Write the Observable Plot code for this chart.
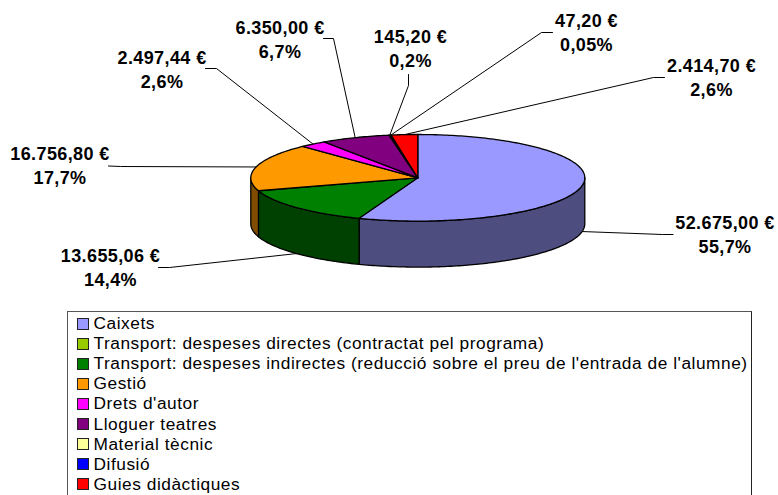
<!DOCTYPE html>
<html>
<head>
<meta charset="utf-8">
<script src="https://cdn.jsdelivr.net/npm/d3@7"></script>
<script src="https://cdn.jsdelivr.net/npm/@observablehq/plot@0.6"></script>
<style>
html,body{margin:0;padding:0;background:#fff;overflow:hidden;}
#chart text{letter-spacing:.4px;}
#legend{box-sizing:border-box;margin-left:67px;width:685px;height:184px;border:1px solid #222;border-bottom:none;border-top-color:#555;border-left-color:#555;padding-top:1.5px;
font-family:"Liberation Sans",Arial,sans-serif;font-size:17.3px;letter-spacing:.55px;color:#000;overflow:hidden;}
.row{display:flex;align-items:center;height:20.1px;white-space:nowrap;}
.sw{box-sizing:border-box;width:12px;height:12px;border:1px solid #222;margin-left:8.5px;margin-right:5px;flex:none;}
</style>
</head>
<body>
<div id="chart"></div>
<div id="legend"></div>
<script>
const categories = ["Caixets","Transport: despeses directes (contractat pel programa)","Transport: despeses indirectes (reducció sobre el preu de l'entrada de l'alumne)","Gestió","Drets d'autor","Lloguer teatres","Material tècnic","Difusió","Guies didàctiques"];
const values = [52675.00, 0, 13655.06, 16756.80, 2497.44, 6350.00, 145.20, 47.20, 2414.70];
const amountLabels = ["52.675,00 €","","13.655,06 €","16.756,80 €","2.497,44 €","6.350,00 €","145,20 €","47,20 €","2.414,70 €"];
const percentLabels = ["55,7%","","14,4%","17,7%","2,6%","6,7%","0,2%","0,05%","2,6%"];
const topColors = ["#9999FF","#99CC00","#008000","#FF9900","#FF00FF","#800080","#FFFF99","#0000FF","#FF0000"];
const sideColors = ["#4D4D80","#4D6600","#004000","#804D00","#800080","#400040","#80804D","#000080","#800000"];
// label block centre and leader-line elbow / end (in chart layout units)
const labelCenterX = [724.5,0,110,59.5,161.5,279.5,410,586,711];
const labelCenterY = [233,0,266,164,67.5,38,47,31,76];
const elbowX = [662,0,169,120,216,333,408,541,653];
const elbowY = [234,0,267,166,68,38,85,32,77];
const endX = [672.5,0,158,108,205,323,408,552,664];
const endY = [234,0,267,165.5,68,38,74,32,77];

const W = 778, H = 311;
const cx = 417.3, cy = 177.3, rx = 167, ry = 43.3, depth = 46;
const total = d3.sum(values);
const rad = d => d * Math.PI / 180;
const px = a => cx + rx * Math.sin(rad(a));
const py = a => cy - ry * Math.cos(rad(a));

let cum = 0;
const slices = values.map((v, i) => {
  const start = cum / total * 360;
  cum += v;
  return {i, v, start, end: cum / total * 360};
}).filter(s => s.v > 0);

const arc = (a, b) => {
  const n = Math.max(1, Math.ceil((b - a) / 1));
  return d3.range(n + 1).map(k => a + (b - a) * k / n);
};

const sidePts = [];
for (const s of slices) {
  const a = Math.max(s.start, 90), b = Math.min(s.end, 270);
  if (b <= a) continue;
  const top = arc(a, b).map(t => ({k: s.i, x: px(t), y: py(t), c: sideColors[s.i]}));
  const bot = arc(a, b).reverse().map(t => ({k: s.i, x: px(t), y: py(t) + depth, c: sideColors[s.i]}));
  sidePts.push(...top, ...bot, top[0]);
}
const topPts = [];
for (const s of slices) {
  const c = {k: s.i, x: cx, y: cy, c: topColors[s.i]};
  topPts.push(c, ...arc(s.start, s.end).map(t => ({k: s.i, x: px(t), y: py(t), c: topColors[s.i]})), c);
}
const leaderPts = [];
for (const s of slices) {
  const m = (s.start + s.end) / 2;
  const front = Math.cos(rad(m)) < 0;
  leaderPts.push(
    {k: s.i, x: px(m), y: py(m) + (front ? depth : 0)},
    {k: s.i, x: elbowX[s.i], y: elbowY[s.i]},
    {k: s.i, x: endX[s.i], y: endY[s.i]}
  );
}
const labels = slices.map(s => ({x: labelCenterX[s.i], y: labelCenterY[s.i], t: amountLabels[s.i] + "\n" + percentLabels[s.i]}));

const plot = Plot.plot({
  width: W, height: H,
  margin: 0, marginTop: 0, marginRight: 0, marginBottom: 0, marginLeft: 0,
  x: {domain: [0, W], range: [0, W], axis: null},
  y: {domain: [0, H], range: [0, H], axis: null},
  color: {type: "identity"},
  style: {background: "#fff", display: "block"},
  marks: [
    Plot.line(leaderPts, {x: "x", y: "y", z: "k", stroke: "#000", strokeWidth: 1, curve: "linear"}),
    Plot.line(sidePts, {x: "x", y: "y", z: "k", fill: "c", stroke: "#000", strokeWidth: 1.3, curve: "linear"}),
    Plot.line(topPts, {x: "x", y: "y", z: "k", fill: "c", stroke: "#000", strokeWidth: 1.3, curve: "linear"}),
    Plot.text(labels, {x: "x", y: "y", text: "t", fontSize: 18, fontWeight: "bold", fontFamily: "'Liberation Sans',Arial,sans-serif", fill: "#000", lineHeight: 1.333, lineAnchor: "middle", textAnchor: "middle"})
  ]
});
document.getElementById("chart").appendChild(plot);

const legend = document.getElementById("legend");
categories.forEach((c, i) => {
  const row = document.createElement("div");
  row.className = "row";
  const sw = document.createElement("span");
  sw.className = "sw";
  sw.style.background = topColors[i];
  const tx = document.createElement("span");
  tx.textContent = c;
  row.append(sw, tx);
  legend.appendChild(row);
});
</script>
</body>
</html>
